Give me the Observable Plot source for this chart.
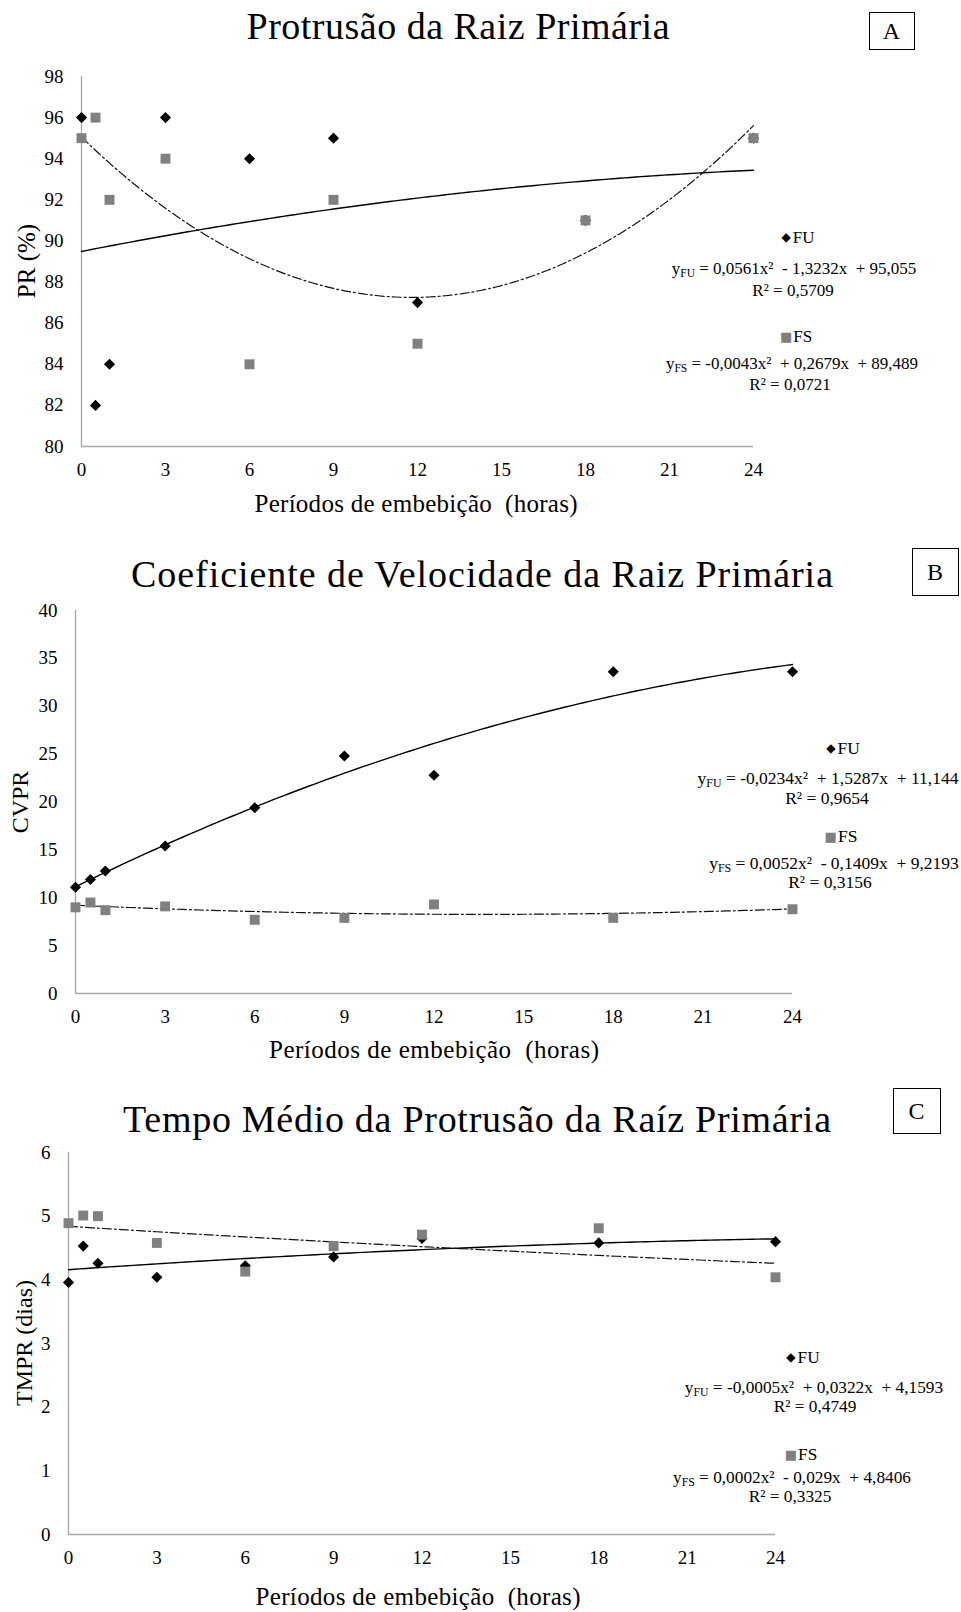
<!DOCTYPE html>
<html><head><meta charset="utf-8">
<script src="https://cdn.jsdelivr.net/npm/d3@7"></script>
<script src="https://cdn.jsdelivr.net/npm/@observablehq/plot@0.6"></script>
<style>
html,body{margin:0;padding:0;background:#fff;overflow:hidden;}
#root{position:relative;width:961px;height:1612px;overflow:hidden;font-family:"Liberation Serif","Times New Roman",serif;}
#root > svg{position:absolute;left:0;}
</style></head><body><div id="root"></div>
<script>
// ---- data ----
const hours = [0, 0.5, 1, 3, 6, 9, 12, 18, 24];
const xTicks = [0, 3, 6, 9, 12, 15, 18, 21, 24];

const prFU = [96, 82, 84, 96, 94, 95, 87, 91, 95];
const prFS = [95, 96, 92, 94, 84, 92, 85, 91, 95];
const prTicks = [80, 82, 84, 86, 88, 90, 92, 94, 96, 98];

const cvprFU = [11.1, 11.9, 12.8, 15.4, 19.4, 24.8, 22.8, 33.6, 33.6];
const cvprFS = [9.0, 9.5, 8.7, 9.1, 7.7, 7.9, 9.3, 7.9, 8.8];
const cvprTicks = [0, 5, 10, 15, 20, 25, 30, 35, 40];

const tmprFU = [3.96, 4.53, 4.26, 4.04, 4.22, 4.36, 4.65, 4.58, 4.60];
const tmprFS = [4.89, 5.01, 5.00, 4.58, 4.13, 4.53, 4.71, 4.81, 4.04];
const tmprTicks = [0, 1, 2, 3, 4, 5, 6];

// trend-line coefficients (a·x² + b·x + c) as printed on the chart
const coefPR_FU = [0.0561, -1.3232, 95.055];
const coefPR_FS = [-0.0043, 0.2679, 89.489];
const coefCV_FU = [-0.0234, 1.5287, 11.144];
const coefCV_FS = [0.0052, -0.1409, 9.2193];
const coefTM_FU = [-0.0005, 0.0322, 4.1593];
const coefTM_FS = [0.0002, -0.029, 4.8406];

// texts
const titles = ["Protrusão da Raiz Primária", "Coeficiente de Velocidade da Raiz Primária", "Tempo Médio da Protrusão da Raíz Primária"];
const panelLetters = ["A", "B", "C"];
const yTitles = ["PR (%)", "CVPR", "TMPR (dias)"];
const xTitle = "Períodos de embebição  (horas)";
const seriesNames = ["FU", "FS"];
const eqFU = ["= 0,0561x²  - 1,3232x  + 95,055", "= -0,0234x²  + 1,5287x  + 11,144", "= -0,0005x²  + 0,0322x  + 4,1593"];
const eqFS = ["= -0,0043x²  + 0,2679x  + 89,489", "= 0,0052x²  - 0,1409x  + 9,2193", "= 0,0002x²  - 0,029x  + 4,8406"];
const r2FU = ["R² = 0,5709", "R² = 0,9654", "R² = 0,4749"];
const r2FS = ["R² = 0,0721", "R² = 0,3156", "R² = 0,3325"];

// ---- layout ----
const root = document.getElementById("root");
const FONT = "'Liberation Serif', 'Times New Roman', serif";
const DASH = "9,3,2,3";

const panels = [
  {fu: prFU, fs: prFS, ticks: prTicks, domain: [80, 98], solid: coefPR_FS, dashed: coefPR_FU,
   top: 40, h: 490, mt: 36, mb: 84, ml: 81, mr: 208},
  {fu: cvprFU, fs: cvprFS, ticks: cvprTicks, domain: [0, 40], solid: coefCV_FU, dashed: coefCV_FS,
   top: 590, h: 450, mt: 20, mb: 47, ml: 75, mr: 169},
  {fu: tmprFU, fs: tmprFS, ticks: tmprTicks, domain: [0, 6], solid: coefTM_FU, dashed: coefTM_FS,
   top: 1130, h: 450, mt: 22, mb: 46, ml: 68, mr: 186}
];

const xs = d3.range(0, 24.0001, 0.2);
const curve = c => xs.map(x => ({x, y: c[0] * x * x + c[1] * x + c[2]}));

panels.forEach(p => {
  const data = hours.map((h, i) => ({h, fu: p.fu[i], fs: p.fs[i]}));
  const svg = Plot.plot({
    width: 961, height: p.h,
    marginLeft: p.ml, marginRight: p.mr, marginTop: p.mt, marginBottom: p.mb,
    style: {fontFamily: FONT, fontSize: "19px", color: "#000", background: "transparent", overflow: "visible"},
    x: {domain: [0, 24]},
    y: {domain: p.domain},
    marks: [
      Plot.axisX({ticks: xTicks, tickSize: 0, tickPadding: 16, label: null, fontSize: 19, tickFormat: d => String(d)}),
      Plot.axisY({ticks: p.ticks, tickSize: 0, tickPadding: 18, label: null, fontSize: 19, tickFormat: d => String(d)}),
      Plot.ruleX([0], {stroke: "#a6a6a6", strokeWidth: 1.3}),
      Plot.ruleY([p.domain[0]], {stroke: "#a6a6a6", strokeWidth: 1.3}),
      Plot.line(curve(p.solid), {x: "x", y: "y", stroke: "#000", strokeWidth: 1.4}),
      Plot.line(curve(p.dashed), {x: "x", y: "y", stroke: "#111", strokeWidth: 1.2, strokeDasharray: DASH}),
      Plot.dot(data, {x: "h", y: "fu", symbol: "diamond2", r: 5, fill: "#000", stroke: "none"}),
      Plot.dot(data, {x: "h", y: "fs", symbol: "square", r: 5.6, fill: "#808080", stroke: "none"})
    ]
  });
  svg.style.top = p.top + "px";
  root.appendChild(svg);
});

// ---- overlay text: titles, axis titles, legends, panel letters ----
const ov = d3.select(root).append("svg")
  .attr("width", 961).attr("height", 1612)
  .style("position", "absolute").style("top", "0px").style("left", "0px")
  .style("font-family", FONT).style("pointer-events", "none");

const titlePos = [{x: 458, y: 39, len: 423}, {x: 482, y: 587, len: 702}, {x: 477, y: 1132, len: 708}];
const boxPos = [{x: 869, y: 12, w: 45, h: 37}, {x: 912, y: 548, w: 46, h: 47}, {x: 893, y: 1088, w: 47, h: 45}];
const xTitlePos = [{x: 416, y: 512, len: 323}, {x: 434, y: 1058, len: 330}, {x: 418, y: 1605, len: 325}];
const yTitlePos = [{x: 35, y: 261, fs: 25}, {x: 28, y: 802, fs: 24}, {x: 32, y: 1343, fs: 24}];
const legendPos = [
  [{x: 798, y: 243}, {x: 794, y: 274}, {x: 793, y: 296}, {x: 796, y: 342}, {x: 792, y: 369}, {x: 790, y: 390}],
  [{x: 843, y: 754}, {x: 828, y: 784}, {x: 827, y: 804}, {x: 841, y: 842}, {x: 834, y: 869}, {x: 830, y: 888}],
  [{x: 803, y: 1363}, {x: 814, y: 1393}, {x: 815, y: 1412}, {x: 801, y: 1460}, {x: 792, y: 1483}, {x: 790, y: 1502}]
];
const legendSize = [17, 17.5, 17.3];

for (let i = 0; i < 3; i++) {
  const t = titlePos[i];
  ov.append("text").attr("x", t.x).attr("y", t.y).attr("text-anchor", "middle")
    .attr("font-size", 38).attr("textLength", t.len).attr("lengthAdjust", "spacing").text(titles[i]);

  const b = boxPos[i];
  ov.append("rect").attr("x", b.x + 0.5).attr("y", b.y + 0.5).attr("width", b.w).attr("height", b.h)
    .attr("fill", "none").attr("stroke", "#000").attr("stroke-width", 1);
  ov.append("text").attr("x", b.x + b.w / 2).attr("y", b.y + b.h / 2 + 8).attr("text-anchor", "middle")
    .attr("font-size", 24).text(panelLetters[i]);

  const xt = xTitlePos[i];
  ov.append("text").attr("x", xt.x).attr("y", xt.y).attr("text-anchor", "middle")
    .attr("font-size", 25).attr("xml:space", "preserve").style("white-space", "pre")
    .attr("textLength", xt.len).attr("lengthAdjust", "spacing").text(xTitle);

  const yt = yTitlePos[i];
  ov.append("text").attr("transform", `translate(${yt.x},${yt.y}) rotate(-90)`).attr("text-anchor", "middle")
    .attr("font-size", yt.fs).text(yTitles[i]);

  const L = legendPos[i];
  const fsz = legendSize[i];
  // FU entry
  const s1 = ov.append("text").attr("x", L[0].x).attr("y", L[0].y).attr("text-anchor", "middle").attr("font-size", fsz);
  s1.append("tspan").attr("font-family", "DejaVu Sans").attr("font-size", 12).attr("dy", -2).attr("fill", "#000").text("◆");
  s1.append("tspan").attr("dy", 2).attr("dx", 2).text(seriesNames[0]);
  const e1 = ov.append("text").attr("x", L[1].x).attr("y", L[1].y).attr("text-anchor", "middle").attr("font-size", fsz)
    .attr("xml:space", "preserve").style("white-space", "pre");
  e1.append("tspan").text("y");
  e1.append("tspan").attr("font-size", fsz * 0.68).attr("dy", 3).text(seriesNames[0]);
  e1.append("tspan").attr("dy", -3).text(" " + eqFU[i]);
  ov.append("text").attr("x", L[2].x).attr("y", L[2].y).attr("text-anchor", "middle").attr("font-size", fsz).text(r2FU[i]);
  // FS entry
  const s2 = ov.append("text").attr("x", L[3].x).attr("y", L[3].y).attr("text-anchor", "middle").attr("font-size", fsz);
  s2.append("tspan").attr("font-family", "DejaVu Sans").attr("font-size", 13).attr("dy", -1).attr("fill", "#808080").text("■");
  s2.append("tspan").attr("dy", 1).attr("dx", 1).text(seriesNames[1]);
  const e2 = ov.append("text").attr("x", L[4].x).attr("y", L[4].y).attr("text-anchor", "middle").attr("font-size", fsz)
    .attr("xml:space", "preserve").style("white-space", "pre");
  e2.append("tspan").text("y");
  e2.append("tspan").attr("font-size", fsz * 0.68).attr("dy", 3).text(seriesNames[1]);
  e2.append("tspan").attr("dy", -3).text(" " + eqFS[i]);
  ov.append("text").attr("x", L[5].x).attr("y", L[5].y).attr("text-anchor", "middle").attr("font-size", fsz).text(r2FS[i]);
}
</script>
</body></html>
